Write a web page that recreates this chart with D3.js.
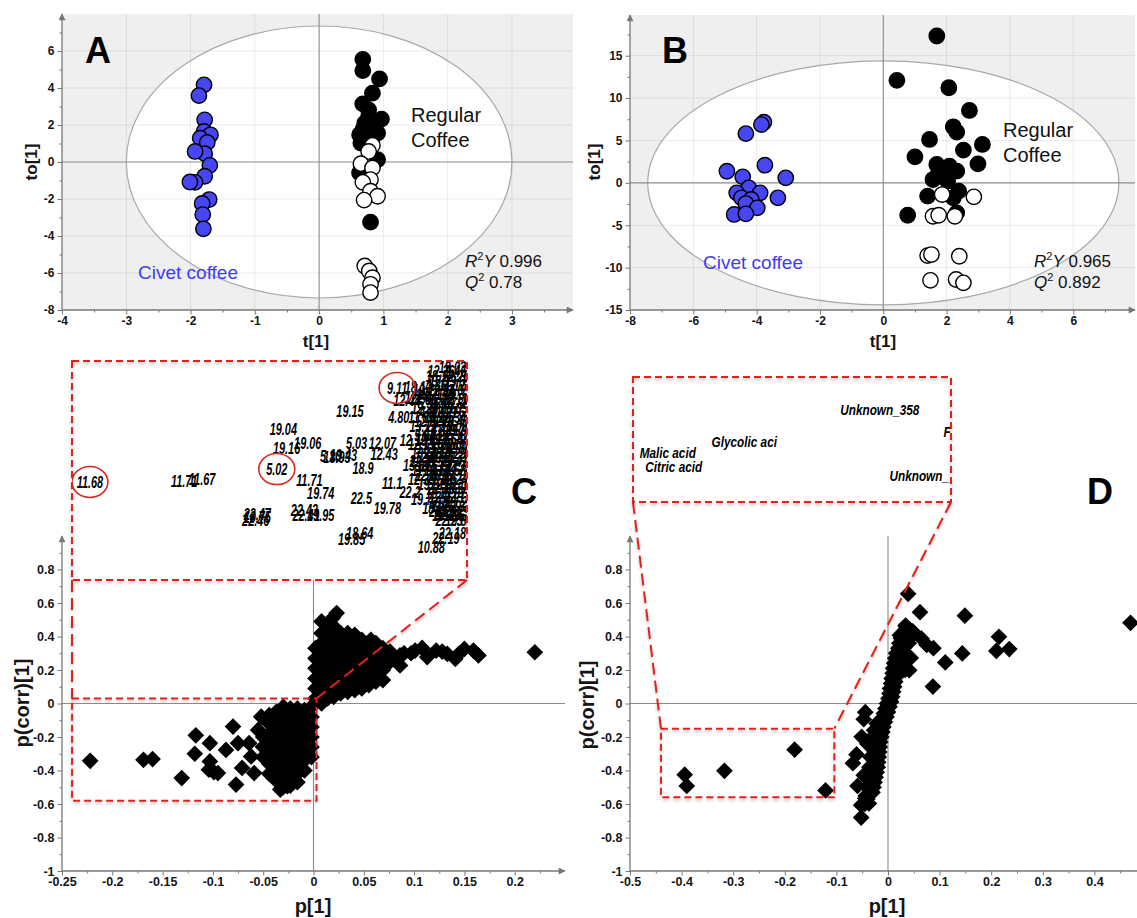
<!DOCTYPE html>
<html lang="en">
<head>
<meta charset="UTF-8">
<title>OPLS-DA civet coffee</title>
<script src="https://d3js.org/d3.v7.min.js"></script>
<style>
  body { margin: 0; background: #fff; }
  svg { display: block; font-family: "Liberation Sans", Arial, sans-serif; }
</style>
</head>
<body>
<svg id="fig" width="1137" height="918"></svg>
<script>
// ---------- Panel A: scores t[1] / to[1] ----------
const civetA = [[-1.79,4.17],[-1.87,3.59],[-1.78,2.28],[-1.79,1.65],[-1.69,1.47],[-1.85,1.29],[-1.74,1.06],
  [-1.78,0.45],[-1.93,0.57],[-1.70,-0.18],[-1.78,-0.77],[-1.93,-1.10],[-2.01,-1.08],[-1.71,-2.03],
  [-1.82,-2.24],[-1.81,-2.84],[-1.80,-3.61]];
const regularA = [[0.68,5.55],[0.68,4.94],[0.94,4.49],[0.83,3.72],[0.68,3.14],[0.77,2.82],[0.97,2.32],
  [0.71,2.10],[0.83,2.01],[0.77,2.46],[0.68,1.74],[0.80,1.65],[0.63,1.47],[0.91,1.56],[0.65,1.02],
  [0.91,0.13],[0.63,-0.59],[0.80,-3.25]];
const openA = [[0.83,0.90],[0.77,0.57],[0.65,-0.09],[0.83,-0.32],[0.80,-0.95],[0.68,-1.10],[0.80,-1.58],
  [0.91,-1.85],[0.70,-2.06],[0.71,-5.62],[0.78,-5.89],[0.83,-6.25],[0.80,-6.61],[0.80,-7.06]];
const ellipseA = [3.0, 7.35];
const statsA = ["0.996", "0.78"];

// ---------- Panel B ----------
const civetB = [[-3.77,7.15],[-3.85,6.87],[-4.34,5.81],[-3.74,2.08],[-4.94,1.37],[-4.44,0.71],[-3.08,0.59],
  [-4.25,-0.59],[-3.89,-1.18],[-4.63,-1.18],[-4.48,-1.77],[-3.33,-1.77],[-4.17,-1.96],[-4.34,-2.44],
  [-3.98,-2.95],[-4.71,-3.73],[-4.34,-3.66]];
const regularB = [[1.69,17.32],[0.43,12.09],[2.07,11.22],[2.72,8.54],[2.21,6.61],[2.32,5.98],[1.46,5.12],
  [3.13,4.53],[1.00,3.07],[2.53,3.86],[2.99,2.24],[1.69,2.17],[2.09,1.97],[2.32,1.38],[1.57,0.39],
  [2.03,0.20],[2.38,-0.98],[1.40,-1.57],[2.21,-1.77],[0.77,-3.82],[2.32,-3.54],[1.75,1.18]];
const openB = [[1.86,-1.38],[2.86,-1.65],[1.57,-3.94],[1.75,-3.82],[2.26,-3.94],[1.40,-8.58],[1.52,-8.46],
  [2.40,-8.66],[1.49,-11.5],[2.30,-11.4],[2.53,-11.8]];
const ellipseB = [7.44, 14.4];
const statsB = ["0.965", "0.892"];

// ---------- Panel C: loadings p[1] / p(corr)[1] ----------
const loadC = [
  // scattered negative loadings
  [-0.222,-0.342],[-0.169,-0.336],[-0.160,-0.332],[-0.131,-0.445],[-0.117,-0.19],[-0.118,-0.30],
  [-0.103,-0.237],[-0.103,-0.346],[-0.099,-0.41],[-0.095,-0.415],[-0.104,-0.395],[-0.087,-0.277],
  [-0.080,-0.138],[-0.077,-0.484],[-0.075,-0.237],[-0.071,-0.385],[-0.064,-0.237],[-0.062,-0.316],
  [-0.059,-0.415],[-0.052,-0.079],[-0.055,-0.158],[-0.050,-0.257],[-0.044,-0.119],[-0.037,-0.277],
  [-0.033,-0.514],[-0.028,-0.040],[-0.026,-0.494],[-0.022,-0.395],[-0.019,-0.296],[-0.015,-0.158],
  [-0.010,-0.079],[-0.008,-0.316],[-0.004,-0.198],
  // dense negative cluster
  [-0.002,-0.02],[-0.002,-0.08],[-0.002,-0.14],[-0.002,-0.2],[-0.002,-0.26],[-0.002,-0.32],
  [-0.009,-0.04],[-0.009,-0.1],[-0.009,-0.16],[-0.009,-0.22],[-0.009,-0.28],[-0.009,-0.34],[-0.009,-0.4],
  [-0.016,-0.03],[-0.016,-0.06],[-0.016,-0.12],[-0.016,-0.18],[-0.016,-0.24],[-0.016,-0.3],[-0.016,-0.36],
  [-0.016,-0.42],[-0.016,-0.47],
  [-0.023,-0.03],[-0.023,-0.07],[-0.023,-0.13],[-0.023,-0.19],[-0.023,-0.25],[-0.023,-0.31],[-0.023,-0.37],
  [-0.023,-0.43],[-0.023,-0.49],
  [-0.03,-0.02],[-0.03,-0.08],[-0.03,-0.14],[-0.03,-0.2],[-0.03,-0.26],[-0.03,-0.32],[-0.03,-0.38],
  [-0.03,-0.44],[-0.03,-0.5],
  [-0.037,-0.05],[-0.037,-0.1],[-0.037,-0.16],[-0.037,-0.22],[-0.037,-0.28],[-0.037,-0.34],[-0.037,-0.4],
  [-0.037,-0.46],
  [-0.044,-0.07],[-0.044,-0.12],[-0.044,-0.18],[-0.044,-0.24],[-0.044,-0.3],[-0.044,-0.36],[-0.044,-0.42],
  [-0.05,-0.2],[-0.05,-0.26],[-0.05,-0.32],
  // dense positive cluster
  [0.002,0.03],[0.002,0.09],[0.002,0.15],[0.002,0.21],[0.002,0.27],[0.002,0.33],
  [0.008,0.0],[0.008,0.06],[0.008,0.12],[0.008,0.18],[0.008,0.24],[0.008,0.3],[0.008,0.36],[0.008,0.42],
  [0.008,0.49],
  [0.014,0.03],[0.014,0.09],[0.014,0.15],[0.014,0.21],[0.014,0.27],[0.014,0.33],[0.014,0.39],[0.014,0.45],
  [0.02,0.04],[0.02,0.1],[0.02,0.16],[0.02,0.22],[0.02,0.28],[0.02,0.34],[0.02,0.4],[0.02,0.46],[0.019,0.51],
  [0.027,0.06],[0.027,0.12],[0.027,0.18],[0.027,0.24],[0.027,0.3],[0.027,0.36],[0.027,0.42],[0.023,0.54],
  [0.034,0.07],[0.034,0.13],[0.034,0.19],[0.034,0.25],[0.034,0.31],[0.034,0.37],[0.034,0.42],
  [0.041,0.08],[0.041,0.14],[0.041,0.2],[0.041,0.26],[0.041,0.32],[0.041,0.38],[0.041,0.41],
  [0.048,0.09],[0.048,0.15],[0.048,0.21],[0.048,0.27],[0.048,0.33],[0.048,0.38],
  [0.055,0.11],[0.055,0.17],[0.055,0.23],[0.055,0.29],[0.055,0.35],[0.057,0.38],
  [0.062,0.13],[0.062,0.19],[0.062,0.25],[0.062,0.31],[0.062,0.36],
  [0.069,0.14],[0.069,0.2],[0.069,0.27],[0.069,0.33],[0.076,0.25],[0.076,0.31],
  // right tail
  [0.086,0.227],[0.086,0.287],[0.09,0.3],[0.097,0.3],[0.101,0.316],[0.108,0.332],[0.113,0.277],
  [0.122,0.316],[0.128,0.31],[0.133,0.296],[0.141,0.267],[0.145,0.3],[0.15,0.326],[0.159,0.316],
  [0.164,0.287],[0.22,0.306]
];
const zoomBoxC = [[-0.24, 0.003], [0.03, -0.58]];
// labels in the zoomed inset of C: [label, p, p(corr)]
const insetLabelsC = [
  ["11.68",-0.229,-0.307],["11.71",-0.171,-0.304],["11.67",-0.160,-0.299],["5.02",-0.114,-0.271],
  ["19.04",-0.110,-0.159],["19.16",-0.108,-0.212],["19.06",-0.095,-0.198],["5.10",-0.081,-0.235],
  ["19.43",-0.073,-0.232],["18.93",-0.077,-0.237],["19.15",-0.069,-0.109],["9.11",-0.040,-0.045],
  ["18.12",-0.027,-0.042],["12.44",-0.034,-0.079],["4.80",-0.039,-0.126],
  ["5.03",-0.065,-0.198],["12.07",-0.049,-0.198],["12.43",-0.048,-0.229],["18.9",-0.061,-0.268],
  ["11.71",-0.094,-0.301],["19.74",-0.087,-0.338],["22.5",-0.062,-0.352],["19.78",-0.046,-0.379],
  ["22.46",-0.127,-0.413],["22.47",-0.126,-0.396],["19.75",-0.126,-0.405],["22.43",-0.097,-0.385],
  ["22.41",-0.096,-0.399],["19.95",-0.087,-0.399],["18.64",-0.063,-0.449],["19.85",-0.068,-0.466],
  ["10.88",-0.019,-0.488],["22.19",-0.010,-0.463],["22.18",-0.006,-0.449],["22.28",-0.009,-0.396],
  ["18.2",-0.018,-0.379],["19.7",-0.025,-0.354],["22.2",-0.032,-0.335],["11.1",-0.043,-0.310],
  ["13.69",-0.028,-0.260],["12.19",-0.030,-0.190],["12.94",-0.027,-0.073],
  ["19.03",-0.006,0.012],["12.26",-0.013,0.002],["9.46",-0.004,0.002],["18.12",-0.014,-0.012],["22.26",-0.004,-0.012],
  ["12.19",-0.012,-0.025],["13.69",-0.003,-0.025],["4.86",-0.016,-0.037],["11.12",-0.006,-0.037],
  ["19.72",-0.022,-0.05],["12.94",-0.013,-0.05],["22.05",-0.004,-0.05],
  ["18.21",-0.02,-0.062],["9.18",-0.011,-0.062],["19.32",-0.003,-0.062],
  ["12.66",-0.024,-0.075],["11.40",-0.014,-0.075],["22.11",-0.005,-0.075],
  ["5.31",-0.021,-0.087],["18.37",-0.012,-0.087],["19.88",-0.004,-0.087],
  ["12.38",-0.023,-0.1],["22.09",-0.014,-0.1],["13.05",-0.005,-0.1],
  ["4.80",-0.02,-0.112],["12.21",-0.011,-0.112],["19.61",-0.003,-0.112],
  ["11.86",-0.025,-0.125],["18.45",-0.015,-0.125],["22.34",-0.006,-0.125],
  ["12.52",-0.021,-0.137],["9.72",-0.012,-0.137],["19.47",-0.004,-0.137],
  ["13.12",-0.024,-0.15],["22.17",-0.014,-0.15],["18.08",-0.005,-0.15],
  ["12.77",-0.02,-0.162],["11.25",-0.011,-0.162],["19.29",-0.003,-0.162],
  ["5.64",-0.023,-0.175],["18.92",-0.015,-0.175],["22.38",-0.006,-0.175],
  ["12.11",-0.021,-0.187],["19.56",-0.012,-0.187],["13.44",-0.004,-0.187],
  ["12.19",-0.025,-0.2],["22.02",-0.014,-0.2],["18.66",-0.005,-0.2],
  ["11.58",-0.02,-0.212],["19.09",-0.011,-0.212],["12.86",-0.003,-0.212],
  ["13.69",-0.023,-0.225],["22.14",-0.015,-0.225],["18.29",-0.006,-0.225],
  ["12.49",-0.021,-0.237],["19.91",-0.012,-0.237],["11.33",-0.004,-0.237],
  ["22.21",-0.024,-0.25],["12.07",-0.014,-0.25],["19.41",-0.005,-0.25],
  ["18.53",-0.02,-0.262],["13.27",-0.011,-0.262],["22.31",-0.003,-0.262],
  ["11.96",-0.023,-0.275],["19.67",-0.015,-0.275],["12.58",-0.006,-0.275],
  ["22.07",-0.021,-0.287],["18.74",-0.012,-0.287],["19.13",-0.004,-0.287],
  ["12.35",-0.025,-0.3],["11.49",-0.014,-0.3],["22.24",-0.005,-0.3],
  ["19.37",-0.019,-0.312],["12.91",-0.011,-0.312],["18.16",-0.003,-0.312],
  ["22.36",-0.013,-0.325],["13.58",-0.004,-0.325],["19.7",-0.016,-0.337],["18.87",-0.006,-0.337],
  ["12.73",-0.012,-0.35],["22.12",-0.003,-0.35],["18.2",-0.014,-0.362],["19.52",-0.005,-0.362],
  ["11.62",-0.011,-0.375],["22.33",-0.003,-0.375],["22.28",-0.012,-0.387],["19.19",-0.004,-0.387],
  ["18.49",-0.01,-0.4],["12.62",-0.003,-0.4],["22.23",-0.008,-0.412],["19.81",-0.002,-0.412]
];
// circled features in the C inset: [p, p(corr)]
const circledC = [[-0.229,-0.307],[-0.114,-0.271],[-0.040,-0.045]];

// ---------- Panel D ----------
const loadD = [
  [-0.394,-0.425],[-0.390,-0.492],[-0.317,-0.402],[-0.181,-0.276],[-0.121,-0.519],
  [0.039,0.655],[0.062,0.545],[0.149,0.524],[0.470,0.482],[0.215,0.398],[0.210,0.314],[0.235,0.325],
  [0.144,0.299],[0.111,0.245],[0.087,0.101],[0.088,0.33],[0.075,0.35],[0.065,0.387],[0.051,0.419],
  [0.048,0.43],[0.034,0.465],[0.023,0.408],[0.041,0.199],[0.044,0.272],
  [0.035,0.46],[0.03,0.42],[0.025,0.39],[0.022,0.36],[0.02,0.33],[0.016,0.3],[0.014,0.27],[0.012,0.24],
  [0.01,0.21],[0.009,0.18],[0.007,0.15],[0.006,0.12],[0.004,0.09],[0.003,0.06],[0.001,0.03],[-0.002,0.0],
  [-0.005,-0.03],[-0.008,-0.06],[-0.011,-0.09],[-0.014,-0.12],[-0.017,-0.15],[-0.019,-0.18],
  [-0.021,-0.21],[-0.023,-0.24],[-0.024,-0.27],[-0.025,-0.3],[-0.026,-0.33],[-0.027,-0.36],
  [-0.028,-0.39],[-0.03,-0.42],[-0.031,-0.45],[-0.033,-0.48],[-0.035,-0.51],[-0.037,-0.54],
  [-0.04,-0.57],[-0.045,-0.6],
  [0.043,0.44],[0.038,0.4],[0.033,0.37],[0.03,0.34],[0.027,0.31],[0.024,0.28],[0.022,0.25],[0.02,0.22],
  [0.018,0.19],[0.016,0.16],[0.014,0.13],[0.012,0.1],[0.01,0.07],[0.008,0.04],[0.006,0.01],[0.003,-0.02],
  [0.0,-0.05],[-0.003,-0.08],[-0.006,-0.11],[-0.009,-0.14],[-0.011,-0.17],[-0.013,-0.2],[-0.015,-0.23],
  [-0.016,-0.26],[-0.017,-0.29],[-0.018,-0.32],[-0.019,-0.35],[-0.02,-0.38],[-0.022,-0.41],[-0.024,-0.44],
  [-0.026,-0.47],[-0.028,-0.5],[-0.03,-0.53],
  [-0.03,-0.2],[-0.032,-0.26],[-0.034,-0.32],[-0.036,-0.38],[-0.038,-0.44],[-0.04,-0.5],[-0.043,-0.55],
  [-0.022,-0.12],[-0.027,-0.16],
  [0.025,0.3],[0.03,0.33],[0.035,0.27],[0.04,0.36],[0.028,0.24],[0.02,0.2],[0.033,0.2],
  [-0.044,-0.052],[-0.047,-0.094],[-0.051,-0.199],[-0.061,-0.304],[-0.068,-0.356],[-0.059,-0.492],
  [-0.052,-0.607],[-0.052,-0.681],[-0.044,-0.565],[-0.047,-0.429],[-0.040,-0.241],[-0.015,-0.115],
  [-0.026,-0.283],[-0.033,-0.492],[-0.037,-0.597]
];
const zoomBoxD = [[-0.44, -0.104], [-0.15, -0.56]];
const insetLabelsD = [
  ["Unknown_358",-0.221,-0.257],["Glycolic aci",-0.357,-0.363],["Malic acid",-0.433,-0.398],
  ["Citric acid",-0.427,-0.445],["F",-0.112,-0.330],["Unknown_",-0.169,-0.475]
];

// ---------- tick values ----------
const ticksA = { x: [-4,-3,-2,-1,0,1,2,3], xm: [-3.5,-2.5,-1.5,-0.5,0.5,1.5,2.5,3.5],
                 y: [-8,-6,-4,-2,0,2,4,6], ym: [-7,-5,-3,-1,1,3,5,7] };
const ticksB = { x: [-8,-6,-4,-2,0,2,4,6], xm: [-7,-5,-3,-1,1,3,5,7],
                 y: [-15,-10,-5,0,5,10,15], ym: [-12.5,-7.5,-2.5,2.5,7.5,12.5,17.5] };
const ticksC = { x: [-0.25,-0.2,-0.15,-0.1,-0.05,0,0.05,0.1,0.15,0.2],
                 xm: [-0.225,-0.175,-0.125,-0.075,-0.025,0.025,0.075,0.125,0.175,0.225],
                 y: [-1,-0.8,-0.6,-0.4,-0.2,0,0.2,0.4,0.6,0.8], ym: [-0.9,-0.7,-0.5,-0.3,-0.1,0.1,0.3,0.5,0.7,0.9] };
const ticksD = { x: [-0.5,-0.4,-0.3,-0.2,-0.1,0,0.1,0.2,0.3,0.4],
                 xm: [-0.45,-0.35,-0.25,-0.15,-0.05,0.05,0.15,0.25,0.35,0.45],
                 y: ticksC.y, ym: ticksC.ym };

const svg = d3.select("#fig");
const FONT = '"Liberation Sans", Arial, sans-serif';
const BLUE = "#4646f2";
const RED = "#e0221c";
const fmt = d => String(Math.round(d * 1000) / 1000);

const defs = svg.append("defs");
defs.append("marker").attr("id", "arr").attr("viewBox", "0 0 10 10")
  .attr("refX", 9).attr("refY", 5).attr("markerWidth", 10).attr("markerHeight", 7)
  .attr("markerUnits", "userSpaceOnUse").attr("orient", "auto")
  .append("path").attr("d", "M0,0L10,5L0,10z").attr("fill", "#777");
defs.append("filter").attr("id", "shadow").attr("filterUnits", "userSpaceOnUse")
  .attr("x", 0).attr("y", 0).attr("width", 1137).attr("height", 918)
  .append("feDropShadow").attr("dx", 0).attr("dy", 2).attr("stdDeviation", 1.4)
  .attr("flood-color", "#000").attr("flood-opacity", 0.28);

function drawAxes(g, x, y, t, fs) {
  const [xl, xr] = x.range(), [yb, yTop] = y.range();
  const ax = g.append("g");
  ax.append("g").attr("transform", `translate(0,${yb})`)
    .call(d3.axisBottom(x).tickValues(t.xm).tickSize(2.5).tickSizeOuter(0).tickFormat(""));
  ax.append("g").attr("transform", `translate(${xl},0)`)
    .call(d3.axisLeft(y).tickValues(t.ym.filter(v => y(v) > yTop + 4)).tickSize(2.5).tickSizeOuter(0).tickFormat(""));
  ax.append("g").attr("transform", `translate(0,${yb})`)
    .call(d3.axisBottom(x).tickValues(t.x).tickSize(4.5).tickSizeOuter(0).tickPadding(2).tickFormat(fmt));
  ax.append("g").attr("transform", `translate(${xl},0)`)
    .call(d3.axisLeft(y).tickValues(t.y).tickSize(4.5).tickSizeOuter(0).tickPadding(3).tickFormat(fmt));
  ax.selectAll(".domain").remove();
  ax.selectAll("line").attr("stroke", "#777");
  ax.selectAll("text").attr("font-size", fs).attr("font-weight", "bold")
    .attr("fill", "#151515").attr("font-family", FONT);
  g.append("line").attr("x1", xl).attr("x2", xr).attr("y1", yb).attr("y2", yb)
    .attr("stroke", "#777").attr("stroke-width", 1.3).attr("marker-end", "url(#arr)");
  g.append("line").attr("x1", xl).attr("x2", xl).attr("y1", yb).attr("y2", yTop)
    .attr("stroke", "#777").attr("stroke-width", 1.3).attr("marker-end", "url(#arr)");
}

function zeroLines(g, x, y) {
  const [xl, xr] = x.range(), [yb, yTop] = y.range();
  g.append("line").attr("x1", x(0)).attr("x2", x(0)).attr("y1", yb).attr("y2", yTop)
    .attr("stroke", "#8a8a8a").attr("stroke-width", 1.1);
  g.append("line").attr("x1", xl).attr("x2", xr).attr("y1", y(0)).attr("y2", y(0))
    .attr("stroke", "#8a8a8a").attr("stroke-width", 1.1);
}

function axisTitles(g, xt, yt, xPos, yPos, fs) {
  g.append("text").attr("x", xPos[0]).attr("y", xPos[1]).attr("text-anchor", "middle")
    .attr("font-size", fs).attr("font-weight", "bold").attr("fill", "#151515").text(xt);
  g.append("text").attr("transform", `translate(${yPos[0]},${yPos[1]}) rotate(-90)`)
    .attr("text-anchor", "middle").attr("dominant-baseline", "central")
    .attr("font-size", fs).attr("font-weight", "bold").attr("fill", "#151515").text(yt);
}

function panelLetter(x, y, s) {
  svg.append("text").attr("x", x).attr("y", y).attr("font-size", 36).attr("font-weight", "bold")
    .attr("fill", "#000").text(s);
}

// ---------- score plots (A, B) ----------
function scorePlot(x, y, ticks, ell, civet, regular, open, stats, pos) {
  const g = svg.append("g");
  const [xl, xr] = x.range(), [yb, yTop] = y.range();
  g.append("rect").attr("x", xl).attr("y", yTop).attr("width", xr - xl).attr("height", yb - yTop)
    .attr("fill", "#efefef");
  g.append("ellipse").attr("cx", x(0)).attr("cy", y(0))
    .attr("rx", x(ell[0]) - x(0)).attr("ry", y(0) - y(ell[1])).attr("fill", "#fff");
  g.selectAll(".gx").data(ticks.x.filter(v => v !== 0 && v !== ticks.x[0])).join("line")
    .attr("x1", d => x(d)).attr("x2", d => x(d)).attr("y1", yb).attr("y2", yTop)
    .attr("stroke", "#000").attr("stroke-opacity", 0.08);
  g.selectAll(".gy").data(ticks.y.filter(v => v !== 0 && v !== ticks.y[0])).join("line")
    .attr("y1", d => y(d)).attr("y2", d => y(d)).attr("x1", xl).attr("x2", xr)
    .attr("stroke", "#000").attr("stroke-opacity", 0.08);
  g.append("ellipse").attr("cx", x(0)).attr("cy", y(0))
    .attr("rx", x(ell[0]) - x(0)).attr("ry", y(0) - y(ell[1]))
    .attr("fill", "none").attr("stroke", "#a8a8a8").attr("stroke-width", 1.2);
  zeroLines(g, x, y);
  const dot = (data, fill) => g.append("g").selectAll("circle").data(data).join("circle")
    .attr("cx", d => x(d[0])).attr("cy", d => y(d[1])).attr("r", 7.7)
    .attr("fill", fill).attr("stroke", "#000").attr("stroke-width", 1.4);
  dot(civet, BLUE);
  dot(regular, "#000");
  dot(open, "#fff");
  drawAxes(g, x, y, ticks, 12);

  g.append("text").attr("x", pos.reg[0]).attr("y", pos.reg[1]).attr("font-size", 20).attr("fill", "#111")
    .text("Regular");
  g.append("text").attr("x", pos.reg[0]).attr("y", pos.reg[1] + 25).attr("font-size", 20).attr("fill", "#111")
    .text("Coffee");
  g.append("text").attr("x", pos.civ[0]).attr("y", pos.civ[1]).attr("font-size", 19).attr("fill", "#3c3cf2")
    .text("Civet coffee");
  const r2 = g.append("text").attr("x", pos.st[0]).attr("y", pos.st[1]).attr("font-size", 17).attr("fill", "#111");
  r2.append("tspan").attr("font-style", "italic").text("R");
  r2.append("tspan").attr("font-size", 11).attr("dy", -7).text("2");
  r2.append("tspan").attr("font-style", "italic").attr("dy", 7).text("Y");
  r2.append("tspan").text(" " + stats[0]);
  const q2 = g.append("text").attr("x", pos.st[0]).attr("y", pos.st[1] + 21).attr("font-size", 17).attr("fill", "#111");
  q2.append("tspan").attr("font-style", "italic").text("Q");
  q2.append("tspan").attr("font-size", 11).attr("dy", -7).text("2");
  q2.append("tspan").attr("dy", 7).text(" " + stats[1]);
  axisTitles(g, "t[1]", "to[1]", pos.xt, pos.yt, 17);
}

const xA = d3.scaleLinear().domain([-4, 3.95]).range([62, 573]);
const yA = d3.scaleLinear().domain([-8, 8]).range([310, 14]);
scorePlot(xA, yA, ticksA, ellipseA, civetA, regularA, openA, statsA,
  { reg: [411, 122], civ: [138, 279], st: [465, 267], xt: [316, 347], yt: [31, 162] });
panelLetter(85, 63, "A");

const xB = d3.scaleLinear().domain([-8, 7.95]).range([630, 1135]);
const yB = d3.scaleLinear().domain([-15, 19.8]).range([310, 15]);
scorePlot(xB, yB, ticksB, ellipseB, civetB, regularB, openB, statsB,
  { reg: [1003, 137], civ: [703, 269], st: [1034, 267], xt: [883, 347], yt: [594, 162] });
panelLetter(662, 63, "B");

// ---------- loading plots (C, D) ----------
const diamond = d3.symbol().type(d3.symbolSquare).size(140)();

function loadPlot(x, y, ticks, data, pos) {
  const g = svg.append("g");
  zeroLines(g, x, y);
  drawAxes(g, x, y, ticks, 12.5);
  g.append("g").selectAll("path").data(data).join("path")
    .attr("d", diamond).attr("fill", "#000")
    .attr("transform", d => `translate(${x(d[0])},${y(d[1])}) rotate(45)`);
  axisTitles(g, "p[1]", "p(corr)[1]", pos.xt, pos.yt, 20);
  return g;
}

function dashed(sel, dash) {
  return sel.attr("fill", "none").attr("stroke", RED).attr("stroke-width", 2)
    .attr("stroke-dasharray", dash).attr("filter", "url(#shadow)");
}

function zoomInset(g, x, y, box, ix, iy, clipId) {
  const [bx0, bx1] = box[0].map(x), [by0, by1] = box[1].map(y);
  const [ix0, ix1] = ix.range(), [iy0, iy1] = iy.range();
  g.append("rect").attr("x", ix0).attr("y", iy0).attr("width", ix1 - ix0).attr("height", iy1 - iy0)
    .attr("fill", "#fff");
  defs.append("clipPath").attr("id", clipId).append("rect")
    .attr("x", ix0).attr("y", iy0).attr("width", ix1 - ix0).attr("height", iy1 - iy0);
  dashed(g.append("rect").attr("x", bx0).attr("y", by0).attr("width", bx1 - bx0).attr("height", by1 - by0), "7,4");
  dashed(g.append("line").attr("x1", ix0).attr("y1", iy1).attr("x2", bx0).attr("y2", by0), "12,6");
  dashed(g.append("line").attr("x1", ix1).attr("y1", iy1).attr("x2", bx1).attr("y2", by0), "12,6");
  const inner = g.append("g").attr("clip-path", `url(#${clipId})`);
  dashed(g.append("rect").attr("x", ix0).attr("y", iy0).attr("width", ix1 - ix0).attr("height", iy1 - iy0), "7,4");
  return inner;
}

// condensed bold italic labels (narrow face)
function insetText(sel, ix, iy, fs, sx, anchor) {
  return sel.attr("transform", d => `translate(${ix(d[1])},${iy(d[2])}) scale(${sx},1)`)
    .attr("text-anchor", anchor).attr("dominant-baseline", "central")
    .attr("font-size", fs).attr("font-weight", "bold").attr("font-style", "italic")
    .attr("fill", "#000").text(d => d[0]);
}

// C
const xC = d3.scaleLinear().domain([-0.25, 0.25]).range([62, 565]);
const yC = d3.scaleLinear().domain([-1, 1]).range([871, 536]);
const gC = loadPlot(xC, yC, ticksC, loadC, { xt: [313, 913], yt: [22, 703] });
const ixC = d3.scaleLinear().domain(zoomBoxC[0]).range([72, 467]);
const iyC = d3.scaleLinear().domain(zoomBoxC[1]).range([361, 580]);
const inC = zoomInset(gC, xC, yC, zoomBoxC, ixC, iyC, "clipC");
insetText(inC.selectAll("text").data(insetLabelsC).join("text"), ixC, iyC, 17, 0.64, "middle");
inC.selectAll("ellipse").data(circledC).join("ellipse")
  .attr("cx", d => ixC(d[0])).attr("cy", d => iyC(d[1])).attr("rx", 18).attr("ry", 15.5)
  .attr("fill", "none").attr("stroke", "#d42a22").attr("stroke-width", 1.6);
panelLetter(511, 504, "C");

// D
const xD = d3.scaleLinear().domain([-0.5, 0.5]).range([630, 1146]);
const yD = d3.scaleLinear().domain([-1, 1]).range([871, 536]);
const gD = loadPlot(xD, yD, ticksD, loadD, { xt: [887, 913], yt: [587, 705] });
const ixD = d3.scaleLinear().domain(zoomBoxD[0]).range([633, 951]);
const iyD = d3.scaleLinear().domain(zoomBoxD[1]).range([377, 502]);
const inD = zoomInset(gD, xD, yD, zoomBoxD, ixD, iyD, "clipD");
insetText(inD.selectAll("text").data(insetLabelsD).join("text"), ixD, iyD, 15.5, 0.76, "start");
panelLetter(1087, 504, "D");
</script>
</body>
</html>
